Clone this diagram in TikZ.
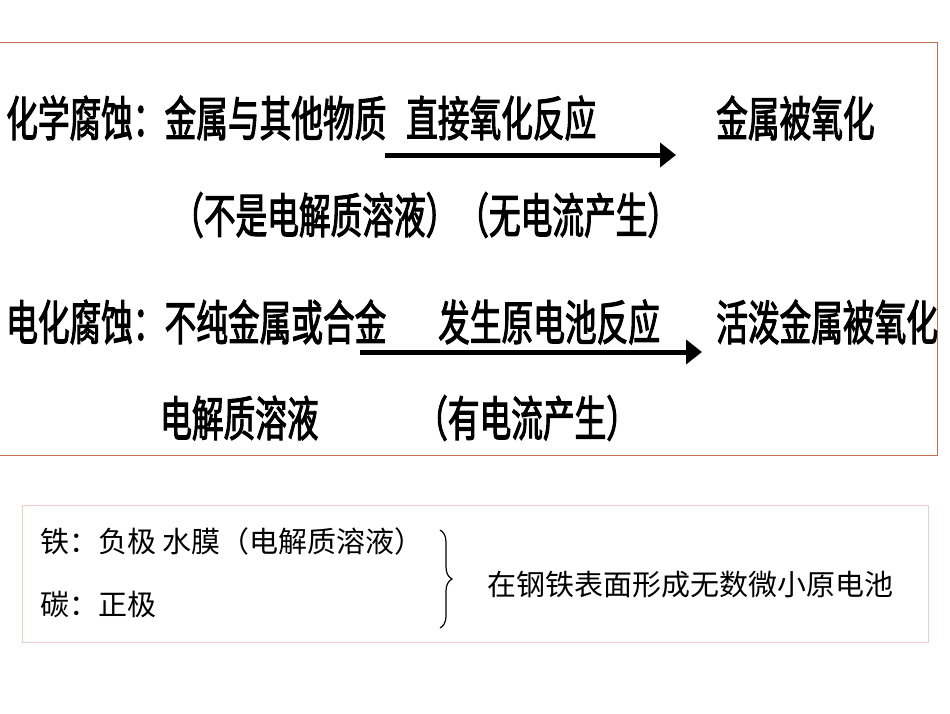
\documentclass[tikz,border=0pt]{standalone}
\usepackage{fontspec}
\usetikzlibrary{decorations.pathreplacing,arrows.meta}
\newfontfamily\cjkb[FakeStretch=0.66,FakeBold=2]{Noto Sans CJK SC}
\newfontfamily\cjk{Noto Sans CJK SC}
\begin{document}
\begin{tikzpicture}[x=1pt,y=-1pt,
  big/.style={font=\cjkb\fontsize{48}{48}\selectfont,anchor=west,inner sep=0},
  small/.style={font=\cjk\fontsize{29}{29}\selectfont,anchor=west,inner sep=0},
  arr/.style={line width=5pt,-{Triangle[length=16pt,width=24pt]}}]
\useasboundingbox (0,0) rectangle (950,713);
\draw[draw={rgb,255:red,200;green,110;blue,80},line width=1pt] (-2,42) rectangle (937,455);
\draw[draw={rgb,255:red,235;green,205;blue,205},line width=0.8pt] (22,505) rectangle (928,642);
\node[big] (a1) at (6,118) {化学腐蚀：金属与其他物质};
\node[big] (a2) at (406,118) {直接氧化反应};
\node[big] (a3) at (716,118) {金属被氧化};
\coordinate (s1) at (385,155); \coordinate (e1) at (676,155);
\draw[arr] (s1) -- (e1);
\node[big] (b1) at (172,215) {（不是电解质溶液）（无电流产生）};
\node[big] (c1) at (6,322) {电化腐蚀：不纯金属或合金};
\node[big] (c2) at (438,322) {发生原电池反应};
\node[big] (c3) at (716,322) {活泼金属被氧化};
\coordinate (s2) at (360,352); \coordinate (e2) at (702,352);
\draw[arr] (s2) -- (e2);
\node[big] (d1) at (160,418) {电解质溶液};
\node[big] (d2) at (416,418) {（有电流产生）};
\node[small] (f1) at (40,541) {铁：负极\ 水膜（电解质溶液）};
\node[small] (f2) at (40,604) {碳：正极};
\coordinate (bt) at (440,530); \coordinate (bb) at (440,628);
\draw[line width=1.2pt,decorate,decoration={brace,amplitude=12pt}] (bt) -- (bb);
\node[small] (g) at (487,585) {在钢铁表面形成无数微小原电池};
\end{tikzpicture}
\end{document}
